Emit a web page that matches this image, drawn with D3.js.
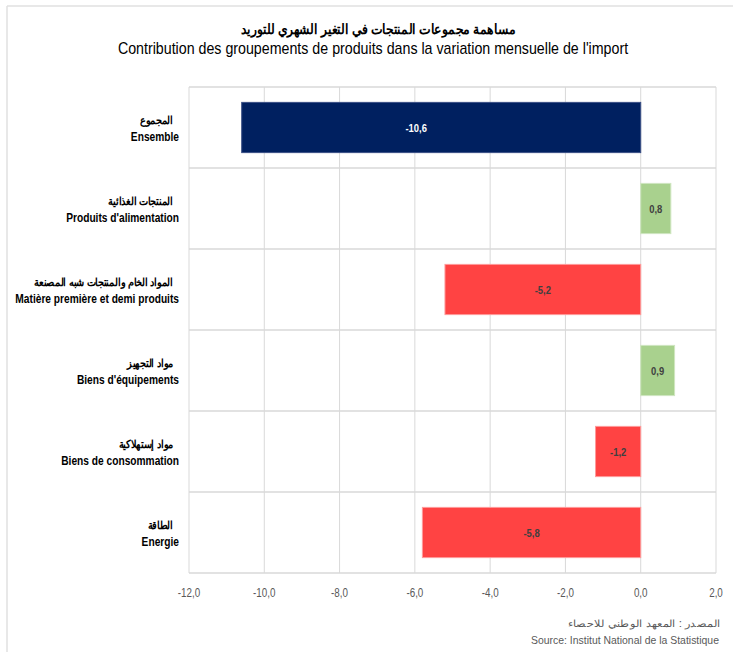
<!DOCTYPE html>
<html><head><meta charset="utf-8">
<script src="https://cdn.jsdelivr.net/npm/d3@7"></script>
<style>
body{margin:0;background:#fff;}
svg{display:block;}
text{font-family:"Liberation Sans","Arial",sans-serif;}
</style></head>
<body>
<svg id="c" width="733" height="652"></svg>
<script>
const categoriesAr = ["المجموع","المنتجات الغذائية","المواد الخام والمنتجات شبه المصنعة","مواد التجهيز","مواد إستهلاكية","الطاقة"];
const categoriesFr = ["Ensemble","Produits d'alimentation","Matière première et demi produits","Biens d'équipements","Biens de consommation","Energie"];
const values = [-10.6, 0.8, -5.2, 0.9, -1.2, -5.8];
const tickValues = [-12,-10,-8,-6,-4,-2,0,2];
const titleAr = "مساهمة مجموعات المنتجات في التغير الشهري للتوريد";
const titleFr = "Contribution des groupements de produits dans la variation mensuelle de l'import";
const sourceAr = "المصدر : المعهد الوطني للاحصاء";
const sourceFr = "Source: Institut National de la Statistique";

const svg = d3.select("#c");
const L = 189, R = 716, T = 87, B = 573;
const K = 0.85; // horizontal compression to mimic a narrow font
const x = d3.scaleLinear().domain([-12, 2]).range([L, R]);
const y = d3.scaleBand().domain(d3.range(values.length)).range([T, B]).paddingInner(0.38).paddingOuter(0.19);
const band = d3.scaleBand().domain(d3.range(values.length)).range([T, B]);

function txt(parent, px, py, s, opt) {
  const k = opt.k || K;
  return parent.append("text")
    .attr("transform", `translate(${px},${py}) scale(${k},1)`)
    .attr("text-anchor", opt.anchor || "middle")
    .attr("font-size", opt.size || 12)
    .attr("font-weight", opt.weight || "normal")
    .attr("fill", opt.fill || "#000")
    .text(s);
}

// outer frame (top & left)
svg.append("line").attr("x1",7).attr("x2",733).attr("y1",6).attr("y2",6).attr("stroke","#e0e0e0").attr("stroke-width",1.5);
svg.append("line").attr("x1",7).attr("x2",7).attr("y1",6).attr("y2",652).attr("stroke","#e0e0e0").attr("stroke-width",1.5);

// titles
txt(svg, 378, 34, titleAr, {size:14, weight:"bold", k:0.88});
txt(svg, 373, 54, titleFr, {size:16, k:0.89});

// grid
const g = svg.append("g");
g.selectAll("line.v").data(tickValues).join("line")
  .attr("x1",d=>x(d)).attr("x2",d=>x(d)).attr("y1",T).attr("y2",B)
  .attr("stroke","#d9d9d9").attr("stroke-width",1);
g.selectAll("line.h").data(d3.range(values.length+1)).join("line")
  .attr("x1",L).attr("x2",R)
  .attr("y1",i=> i<values.length ? band(i) : B).attr("y2",i=> i<values.length ? band(i) : B)
  .attr("stroke","#d9d9d9").attr("stroke-width",1.5);

// bars
const color = (v,i) => i===0 ? "#002060" : (v<0 ? "#FF4343" : "#A9D18E");
const stroke = (v,i) => i===0 ? "#3a4f86" : (v<0 ? "#ff9a9a" : "#cfe6c0");
svg.selectAll("rect.bar").data(values).join("rect")
  .attr("x",d=>x(Math.min(0,d))).attr("width",d=>Math.abs(x(d)-x(0)))
  .attr("y",(d,i)=>y(i)).attr("height",y.bandwidth())
  .attr("fill",(d,i)=>color(d,i)).attr("stroke",(d,i)=>stroke(d,i)).attr("stroke-width",1);

// bar labels
const fmt = v => d3.format(".1f")(v).replace(".",",").replace("−","-");
const vl = svg.append("g");
values.forEach((d,i)=>{
  const shift = i===0 ? -25 : 0; // the total's label sits left of bar centre in the original
  txt(vl, (x(d)+x(0))/2 + shift, y(i)+y.bandwidth()/2+4, fmt(d), {size:11.5, weight:"bold", fill: i===0 ? "#fff" : "#404040", k:0.82});
});

// category labels
const cl = svg.append("g");
values.forEach((v,i)=>{
  const cy = band(i)+band.bandwidth()/2;
  txt(cl, 173, cy-4, categoriesAr[i], {size:11, weight:"bold", anchor:"end", k:0.89});
  txt(cl, 179, cy+13, categoriesFr[i], {size:12, weight:"bold", anchor:"end", k:0.85});
});

// x axis ticks
const tl = svg.append("g");
tickValues.forEach(d=> txt(tl, x(d), 597, fmt(d), {size:12, fill:"#595959", k:0.82}));

// source
txt(svg, 720, 627, sourceAr, {size:10.5, anchor:"end", fill:"#595959", k:1.12});
txt(svg, 719, 644, sourceFr, {size:11, anchor:"end", fill:"#595959", k:0.95});
</script>
</body></html>
